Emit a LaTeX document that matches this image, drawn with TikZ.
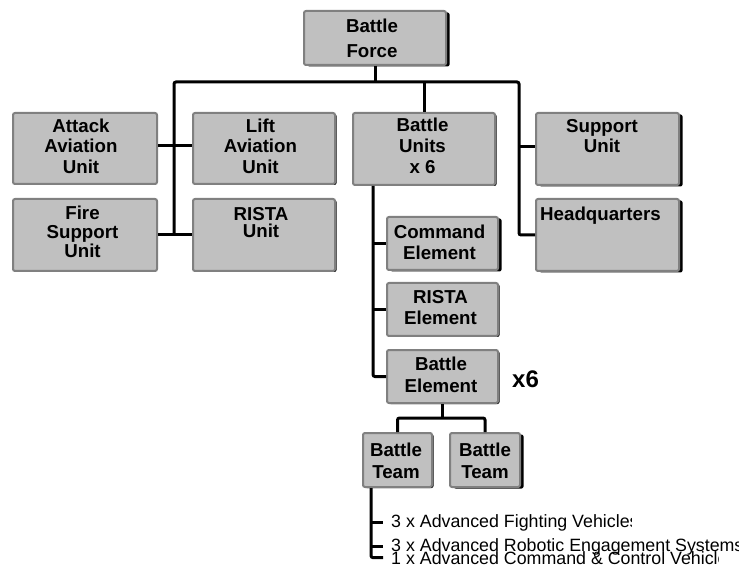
\documentclass[tikz,border=0pt]{standalone}
\usepackage{fontspec}
\setmainfont{Liberation Sans}
\usetikzlibrary{shadows}
\definecolor{boxfill}{HTML}{C0C0C0}
\definecolor{boxline}{HTML}{808080}
\begin{document}
\begin{tikzpicture}[x=1pt,y=-1pt,
  unitbox/.style={draw=boxline, fill=boxfill, line width=2pt, rounded corners=2pt, inner sep=0pt},
  lightshade/.style={drop shadow={shadow xshift=1.5pt, shadow yshift=-1pt, fill=black, opacity=1}},
  heavyshade/.style={drop shadow={shadow xshift=3.5pt, shadow yshift=-1.5pt, fill=black, opacity=1}},
  lbl/.style={anchor=north, inner sep=0pt, align=center, font=\bfseries\fontsize{18.7}{#1}\selectfont},
  lbl/.default=20.5,
  veh/.style={anchor=base west, inner sep=0pt, font=\fontsize{17.8}{20}\selectfont},
  conn/.style={draw=black, line width=3pt, rounded corners=2pt}]
\fill[white] (0,0) rectangle (739,569);
\useasboundingbox (0,0) rectangle (739,569);

% unit boxes
\node[unitbox, heavyshade, minimum width=142pt, minimum height=54pt] (bf) at (375,38) {};
\node[unitbox, minimum width=144pt, minimum height=71pt] (aav) at (85,148.5) {};
\node[unitbox, lightshade, minimum width=142pt, minimum height=71pt] (lav) at (264,148.5) {};
\node[unitbox, lightshade, minimum width=142pt, minimum height=72pt] (bu) at (424,149) {};
\node[unitbox, heavyshade, minimum width=143pt, minimum height=72pt] (su) at (607.5,149) {};
\node[unitbox, minimum width=144pt, minimum height=72pt] (fsu) at (85,235) {};
\node[unitbox, lightshade, minimum width=142pt, minimum height=72pt] (ru) at (264,235) {};
\node[unitbox, heavyshade, minimum width=143pt, minimum height=72pt] (hq) at (607.5,235) {};
\node[unitbox, heavyshade, minimum width=111pt, minimum height=53pt] (ce) at (442.5,243.5) {};
\node[unitbox, lightshade, minimum width=111pt, minimum height=53pt] (re) at (442.5,309.5) {};
\node[unitbox, lightshade, minimum width=111pt, minimum height=53pt] (be) at (442.5,376.5) {};
\node[unitbox, lightshade, minimum width=69pt, minimum height=54pt] (bt1) at (397.5,460) {};
\node[unitbox, heavyshade, minimum width=70pt, minimum height=54pt] (bt2) at (485,460) {};

% box labels
\node[lbl=25] (bft) at ([xshift=-3pt,yshift=-8pt]bf.north) {\rule{0pt}{14pt}Battle\\Force};
\node[lbl=20.5] (aavt) at ([xshift=-4pt,yshift=-6pt]aav.north) {\rule{0pt}{14pt}Attack\\Aviation\\Unit};
\node[lbl=20.5] (lavt) at ([xshift=-3.5pt,yshift=-6pt]lav.north) {\rule{0pt}{14pt}Lift\\Aviation\\Unit};
\node[lbl=21] (but) at ([xshift=-1.5pt,yshift=-5pt]bu.north) {\rule{0pt}{14pt}Battle\\Units\\x 6};
\node[lbl=20.5] (sut) at ([xshift=-5.5pt,yshift=-6pt]su.north) {\rule{0pt}{14pt}Support\\Unit};
\node[lbl=19] (fsut) at ([xshift=-2.5pt,yshift=-7.5pt]fsu.north) {\rule{0pt}{14pt}Fire\\Support\\Unit};
\node[lbl=17.5] (rut) at ([xshift=-3pt,yshift=-8pt]ru.north) {\rule{0pt}{14pt}RISTA\\Unit};
\node[lbl=20.5] (hqt) at ([xshift=-7pt,yshift=-8pt]hq.north) {\rule{0pt}{14pt}Headquarters};
\node[lbl=21] (cet) at ([xshift=-3pt,yshift=-8.3pt]ce.north) {\rule{0pt}{14pt}Command\\Element};
\node[lbl=21] (ret) at ([xshift=-2pt,yshift=-7.3pt]re.north) {\rule{0pt}{14pt}RISTA\\Element};
\node[lbl=21.6] (bet) at ([xshift=-1.5pt,yshift=-7.7pt]be.north) {\rule{0pt}{14pt}Battle\\Element};
\node[lbl=21.6] (bt1t) at ([xshift=-1.5pt,yshift=-10.7pt]bt1.north) {\rule{0pt}{14pt}Battle\\Team};
\node[lbl=21.6] (bt2t) at ([yshift=-10.7pt]bt2.north) {\rule{0pt}{14pt}Battle\\Team};
\node[anchor=base west, inner sep=0pt, font=\bfseries\fontsize{24}{28}\selectfont] (mult) at (512,387) {x6};

% vehicle list
\begin{scope}
  \clip (380,505) rectangle (631,536);
  \node[veh] (v1) at (391,527) {3 x Advanced Fighting Vehicles};
\end{scope}
\begin{scope}
  \clip (380,532) rectangle (739,569);
  \node[veh] (v2) at (391,551) {3 x Advanced Robotic Engagement Systems};
\end{scope}
\begin{scope}
  \clip (380,548) rectangle (718,569);
  \node[veh] (v3) at (391,564) {1 x Advanced Command \& Control Vehicle};
\end{scope}

% top level connectors
\coordinate (busL) at (174,82);
\coordinate (busR) at (519,82);
\draw[conn] (bf.south) -- (bf.south |- busL);
\draw[conn] (busL |- fsu.east) -- (busL) -- (busR) -- (busR |- hq.west) -- (hq.west);
\draw[conn] ([yshift=2.5pt]aav.east) -- ([yshift=2.5pt]lav.west);
\draw[conn] (fsu.east) -- (ru.west);
\draw[conn] ([yshift=2.5pt]busR |- su.west) -- ([yshift=2.5pt]su.west);
\draw[conn] (bu.north) -- (bu.north |- busR);

% battle unit breakdown
\coordinate (buv) at ([xshift=21pt]bu.south west);
\draw[conn] (buv) |- (be.west);
\draw[conn] (buv |- ce.west) -- (ce.west);
\draw[conn] (buv |- re.west) -- (re.west);

% battle element to teams
\coordinate (tj) at ([yshift=-14pt]be.south);
\draw[conn] (be.south) -- (tj);
\draw[conn] (bt1.north) |- (tj) -| (bt2.north);

% team composition
\coordinate (btv) at ([xshift=9pt]bt1.south west);
\draw[conn] (btv) |- ([xshift=-8pt]v3.west);
\draw[conn] (btv |- v1.west) -- ([xshift=-8pt]v1.west);
\draw[conn] (btv |- v2.west) -- ([xshift=-8pt]v2.west);
\end{tikzpicture}
\end{document}
